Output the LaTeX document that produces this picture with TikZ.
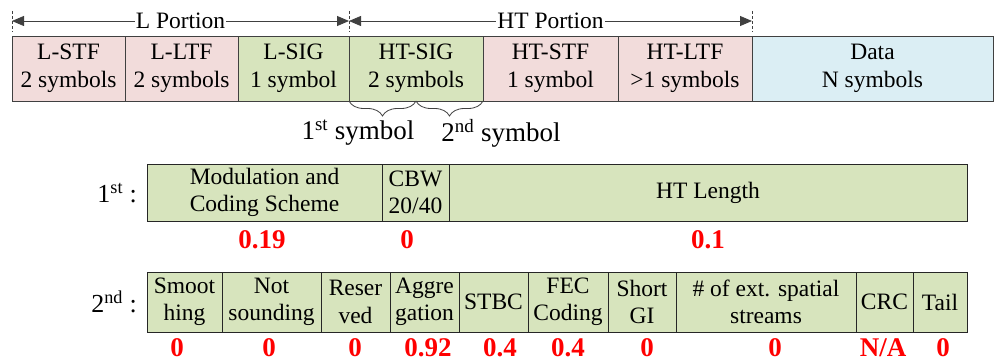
\documentclass[tikz,border=0pt]{standalone}
\usepackage{fontspec}
\setmainfont{Liberation Serif}
\usetikzlibrary{arrows.meta,decorations.pathreplacing,calc}
\definecolor{trainpink}{HTML}{F2DCDB}
\definecolor{siggreen}{HTML}{D7E4BD}
\definecolor{datablue}{HTML}{DBEEF4}
\definecolor{edgegray}{HTML}{404040}
\definecolor{valred}{HTML}{FF0000}
\tikzset{
  field/.style={draw=edgegray, line width=0.9pt, inner sep=0pt, outer sep=0pt,
    align=center, anchor=north west, font=\fontsize{23.5}{27.5}\selectfont},
  pinkfield/.style={field, fill=trainpink},
  greenfield/.style={field, fill=siggreen},
  bluefield/.style={field, fill=datablue},
  bitfield/.style={field, draw=black!85, fill=siggreen},
  value/.style={text=valred, font=\fontsize{27}{30}\bfseries\selectfont, inner sep=0pt},
  rowlabel/.style={font=\fontsize{26}{30}\selectfont, anchor=east, inner sep=0pt},
  symlabel/.style={font=\fontsize{27}{30}\selectfont, inner sep=0pt},
  span/.style={line width=0.8pt, draw=edgegray,
    {Triangle[length=12pt,width=10pt]}-{Triangle[length=12pt,width=10pt]}},
  spanlabel/.style={fill=white, inner sep=1pt, font=\fontsize{23.5}{27}\selectfont},
  tick/.style={draw=edgegray, line width=0.7pt, dash pattern=on 3pt off 2pt},
  bracket/.style={draw=edgegray, line width=0.8pt, decorate,
    decoration={brace, mirror, amplitude=15pt, aspect=0.5}},
}
\begin{document}
\begin{tikzpicture}[x=1pt, y=-1pt]
\useasboundingbox (0,0) rectangle (994,361);

% PPDU fields
\node[pinkfield, minimum width=113pt, minimum height=65pt] (lstf) at (12,36) {L-STF\\2 symbols};
\node[pinkfield, minimum width=113pt, minimum height=65pt] (lltf) at (125,36) {L-LTF\\2 symbols};
\node[greenfield, minimum width=111pt, minimum height=65pt] (lsig) at (238,36) {L-SIG\\1 symbol};
\node[greenfield, minimum width=134pt, minimum height=65pt] (htsig) at (349,36) {HT-SIG\\2 symbols};
\node[pinkfield, minimum width=135pt, minimum height=65pt] (htstf) at (483,36) {HT-STF\\1 symbol};
\node[pinkfield, minimum width=134pt, minimum height=65pt] (htltf) at (618,36) {HT-LTF\\>1 symbols};
\node[bluefield, minimum width=241pt, minimum height=65pt] (data) at (752,36) {Data\\N symbols};

% portion markers
\coordinate (mA) at (12,21);
\coordinate (mB) at (349,21);
\coordinate (mC) at (752,21);
\foreach \m in {mA,mB,mC} \draw[tick] ($(\m)+(0,-10)$) -- ($(\m)+(0,11)$);
\draw[span] (mA) -- node[spanlabel] {L Portion} (mB);
\draw[span] (mB) -- node[spanlabel] {HT Portion} (mC);

% HT-SIG symbol braces
\coordinate (hsmid) at (416,101);
\draw[bracket] (htsig.south west) -- (hsmid);
\draw[bracket] (hsmid) -- (htsig.south east);
\node[symlabel] (sym1) at (358,133) {1\textsuperscript{st} symbol};
\node[symlabel] (sym2) at (501,133) {2\textsuperscript{nd} symbol};

% first HT-SIG symbol
\node[rowlabel] (r1) at (137,193) {1\textsuperscript{st} :};
\node[bitfield, minimum width=235pt, minimum height=57pt] (mcs) at (147,164) {Modulation and\\Coding Scheme};
\node[bitfield, minimum width=67pt, minimum height=57pt] (cbw) at (382,164) {CBW\\20/40};
\node[bitfield, minimum width=518pt, minimum height=57pt] (len) at (449,164) {HT Length};
\node[value] at (262,240) {0.19};
\node[value] at (407,240) {0};
\node[value] at (708,240) {0.1};

% second HT-SIG symbol
\node[rowlabel] (r2) at (137,302) {2\textsuperscript{nd} :};
\node[bitfield, minimum width=75pt, minimum height=60pt] (smo) at (147,272) {Smoot\\hing};
\node[bitfield, minimum width=99pt, minimum height=60pt] (nsd) at (222,272) {Not\\sounding};
\node[bitfield, minimum width=69pt, minimum height=60pt] (res) at (321,272) {Reser\\ved};
\node[bitfield, minimum width=69pt, minimum height=60pt] (agg) at (390,272) {Aggre\\gation};
\node[bitfield, minimum width=69pt, minimum height=60pt] (stbc) at (459,272) {STBC};
\node[bitfield, minimum width=80pt, minimum height=60pt] (fec) at (528,272) {FEC\\Coding};
\node[bitfield, minimum width=68pt, minimum height=60pt] (sgi) at (608,272) {Short\\GI};
\node[bitfield, minimum width=180pt, minimum height=60pt] (ess) at (676,272) {\# of ext. spatial\\streams};
\node[bitfield, minimum width=57pt, minimum height=60pt] (crc) at (856,272) {CRC};
\node[bitfield, minimum width=54pt, minimum height=60pt] (tail) at (913,272) {Tail};
\node[value] at (177,348) {0};
\node[value] at (269,348) {0};
\node[value] at (355,348) {0};
\node[value] at (428,348) {0.92};
\node[value] at (500,348) {0.4};
\node[value] at (568,348) {0.4};
\node[value] at (647,348) {0};
\node[value] at (775,348) {0};
\node[value] at (883,348) {N/A};
\node[value] at (943,348) {0};
\end{tikzpicture}
\end{document}
